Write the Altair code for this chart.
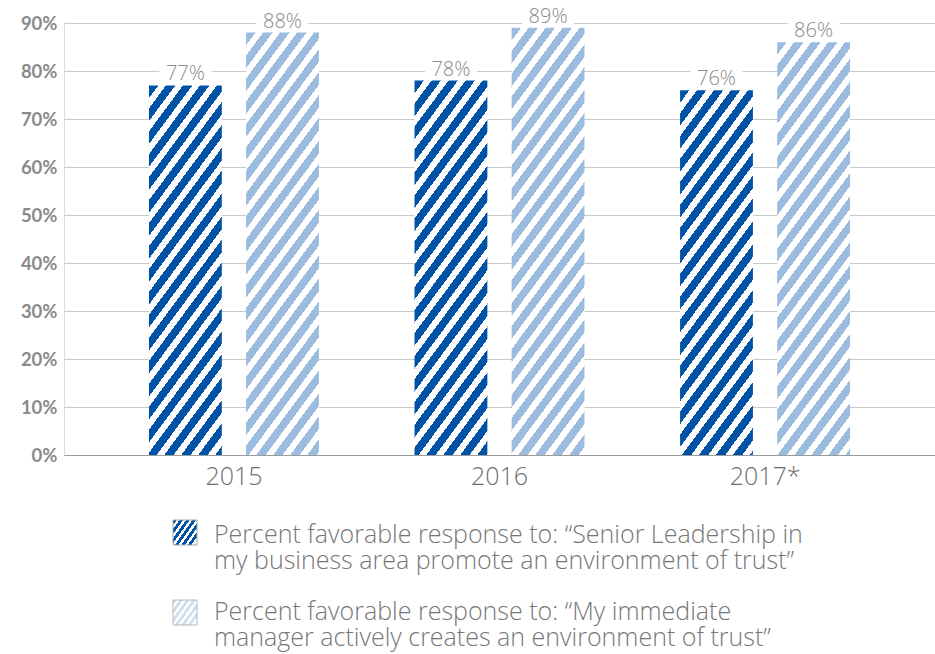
import altair as alt
import pandas as pd

# ---------------- data ----------------
years = ["2015", "2016", "2017*"]
senior_leadership = [77, 78, 76]
immediate_manager = [88, 89, 86]
series = ["Senior Leadership", "Immediate manager"]
legend_lines = [
    ["Percent favorable response to: \u201cSenior Leadership in",
     "my business area promote an environment of trust\u201d"],
    ["Percent favorable response to: \u201cMy immediate",
     "manager actively creates an environment of trust\u201d"],
]
y_ticks = [0, 10, 20, 30, 40, 50, 60, 70, 80, 90]

# ---------------- style ----------------
W, H = 871, 432
YMAX = 90
DARK = "#0052a5"
LIGHT = "#9bbbdf"
PALE = "#cfe0f1"
SLOPE = 1.35
PERIOD = 17.0
PAD_INNER, PAD_OUTER = 0.36, 0.32
OFF_INNER = 0.25
FONT = "Open Sans"
BOLD_FONT = "Lato"

step = W / (len(years) - PAD_INNER + 2 * PAD_OUTER)
band = step * (1 - PAD_INNER)
bar_w = band / (2 - OFF_INNER) * (1 - OFF_INNER)


def stripes(color, h_over_w, w_px, period, frac=0.55, bg="white"):
    k = h_over_w / SLOPE
    dt = period / (w_px * (1 + k * k))
    tmax = (1 + k) / (1 + k * k)
    stops = []
    i = 0
    while i * dt < min(1.0, tmax + dt):
        t0 = i * dt
        t1 = min(1.0, t0 + frac * dt)
        t2 = min(1.0, (i + 1) * dt)
        stops += [
            {"offset": round(t0, 6), "color": color},
            {"offset": round(t1, 6), "color": color},
            {"offset": round(t1, 6), "color": bg},
            {"offset": round(t2, 6), "color": bg},
        ]
        i += 1
    return {"gradient": "linear", "x1": 0, "y1": 0, "x2": 1, "y2": k, "stops": stops}


rows = []
for yr, a, b in zip(years, senior_leadership, immediate_manager):
    for s, v, c in ((series[0], a, DARK), (series[1], b, LIGHT)):
        h_px = v / YMAX * H
        rows.append({
            "year": yr,
            "series": s,
            "value": v,
            "label": f"{v}%",
            "grad": stripes(c, h_px / bar_w, bar_w, PERIOD),
        })
df = pd.DataFrame(rows)

x_enc = alt.X(
    "year:N",
    sort=years,
    scale=alt.Scale(paddingInner=PAD_INNER, paddingOuter=PAD_OUTER),
    axis=alt.Axis(
        title=None, labelAngle=0, ticks=False, domain=True, domainColor="#9a9a9a",
        domainWidth=1, labelFont=FONT, labelFontSize=25, labelFontWeight=300,
        labelColor="#6f6f6f", labelPadding=9, grid=False,
    ),
)
xoff_enc = alt.XOffset("series:N", sort=series,
                       scale=alt.Scale(paddingInner=OFF_INNER, paddingOuter=0))
y_enc = alt.Y(
    "value:Q",
    scale=alt.Scale(domain=[0, YMAX], nice=False),
    axis=alt.Axis(
        title=None, values=y_ticks, labelExpr="datum.value + '%'", ticks=False,
        domain=False, grid=True, gridColor="#c9c9c9", gridWidth=1,
        labelFont=BOLD_FONT, labelFontSize=18.5, labelFontWeight="bold",
        labelColor="#8a8a8a", labelPadding=7,
    ),
)

base = alt.Chart(df)

bars = base.mark_bar(strokeWidth=0).encode(
    x=x_enc, xOffset=xoff_enc, y=y_enc,
    fill=alt.Fill("grad:N", scale=None, legend=None),
)

label_bg = base.mark_point(
    shape="M-1,-0.4H1V0.4H-1Z", size=2704, filled=True, fill="white",
    opacity=1, strokeWidth=0, yOffset=-13,
).encode(x=alt.X("year:N", sort=years), xOffset=alt.XOffset("series:N", sort=series),
         y=alt.Y("value:Q"))

labels = base.mark_text(
    font=FONT, fontSize=20, fontWeight=300, color="#8a8a8a",
    baseline="alphabetic", dy=-5,
).encode(x=alt.X("year:N", sort=years), xOffset=alt.XOffset("series:N", sort=series),
         y=alt.Y("value:Q"), text="label:N")

one = alt.Chart(pd.DataFrame({"i": [0]}))
icon1 = one.mark_rect(stroke="#a8a8a8", strokeWidth=1).encode(
    x=alt.value(109), x2=alt.value(133), y=alt.value(497), y2=alt.value(522),
    fill=alt.value(stripes(DARK, 1.0, 24, 6.5)),
)
icon2 = one.mark_rect(stroke="#b8b8b8", strokeWidth=1).encode(
    x=alt.value(109), x2=alt.value(133), y=alt.value(577), y2=alt.value(602),
    fill=alt.value(stripes(PALE, 1.0, 24, 6.5)),
)

leg_style = dict(font=FONT, fontSize=25, fontWeight=300, color="#777777", align="left",
                 baseline="alphabetic")
leg_layers = []
entry_y = [520, 597]
for lines, y0 in zip(legend_lines, entry_y):
    for j, line in enumerate(lines):
        leg_layers.append(
            alt.Chart(pd.DataFrame({"text": [line]})).mark_text(**leg_style).encode(
                x=alt.value(150), y=alt.value(y0 + 26 * j), text="text:N")
        )

chart = alt.layer(bars, label_bg, labels, icon1, icon2, *leg_layers).properties(
    width=W, height=H,
    autosize=alt.AutoSizeParams(type="none"),
    padding={"left": 64, "top": 23, "right": 0, "bottom": 199},
).configure_view(stroke=None).configure(background="white")

chart.save("out.html", embed_options={"renderer": "svg", "actions": False})
